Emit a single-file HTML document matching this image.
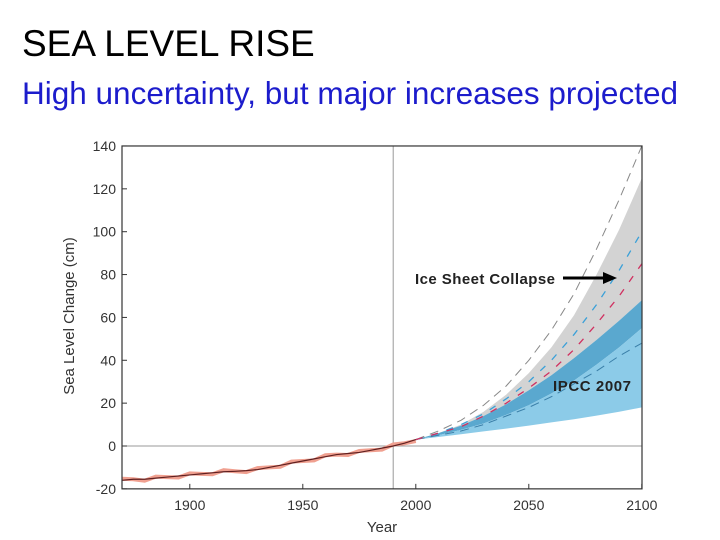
<!DOCTYPE html>
<html><head><meta charset="utf-8"><style>
body{margin:0;background:#fff;width:720px;height:540px;overflow:hidden;font-family:"Liberation Sans",sans-serif}
.t{position:absolute;left:22px;top:23px;font-size:37px;color:#000;white-space:nowrap}
.s{position:absolute;left:22px;top:75px;font-size:31.5px;color:#1c1ccc;white-space:nowrap}
</style></head><body>
<div class="t">SEA LEVEL RISE</div>
<div class="s">High uncertainty, but major increases projected</div>
<svg id="c" width="720" height="540" style="position:absolute;left:0;top:0"></svg>
<script>
const histYears=[1870,1875,1880,1885,1890,1895,1900,1905,1910,1915,1920,1925,1930,1935,1940,1945,1950,1955,1960,1965,1970,1975,1980,1985,1990,1995,2000];
const histVals=[-16,-15.5,-15.5,-15,-14.5,-14,-13.5,-13,-12.5,-12,-11.8,-11.5,-11,-10,-9,-8,-7,-6,-5,-4,-3.5,-3,-2,-1,0,1.3,3];
const projYears=[2000,2010,2020,2030,2040,2050,2060,2070,2080,2090,2100];
const grayTop=[3,6,10,16,24,34,46,61,80,101,125];
const darkTop=[3,6,9.5,14,19.5,26,33,41,49.5,58.5,68];
const darkBottom=[3,5,7.5,10.5,14.5,19,24.5,30.5,38,46,55];
const lightBottom=[3,4.2,5.5,6.8,8.1,9.5,11,12.5,14.2,16,18];
const topDash=[3,7,12,19,28,40,54,71,92,115,140];
const lowDash=[3,5,7,10,14,18,23,29,35,42,48];
const cyanDash=[3,6,10,15,22,30,40,52,66,82,100];
const redDash=[3,6,9,14,20,27,35,45,57,70,85];
const xTicks=[1900,1950,2000,2050,2100];
const yTicks=[-20,0,20,40,60,80,100,120,140];
const X=y=>122+(y-1870)*2.26, Y=v=>446-v*2.143;
const svg=document.getElementById('c');const NS='http://www.w3.org/2000/svg';
function mk(t,a,name){const e=document.createElementNS(NS,t);for(const k in a)e.setAttribute(k,a[k]);


svg.appendChild(e);return e;}
const pts=(ys,vs)=>ys.map((y,i)=>X(y)+','+Y(vs[i])).join(' ');
const band=(a,b)=>pts(projYears,a)+' '+pts(projYears.slice().reverse(),b.slice().reverse());
mk('polygon',{points:band(grayTop,darkTop),fill:'#d3d3d3'},'ice-sheet-band');
mk('polygon',{points:band(darkTop,darkBottom),fill:'#5aa8cf'},'overlap-band');
mk('polygon',{points:band(darkBottom,lightBottom),fill:'#8ccbe8'},'ipcc-band');
mk('polyline',{points:pts(projYears,topDash),fill:'none',stroke:'#888','stroke-dasharray':'9,6','stroke-width':1},'upper-dashed');
mk('polyline',{points:pts(projYears,lowDash),fill:'none',stroke:'#3a7fa8','stroke-dasharray':'9,6','stroke-width':1},'lower-dashed');
mk('polyline',{points:pts(projYears,cyanDash),fill:'none',stroke:'#3aa0d8','stroke-dasharray':'7,9','stroke-width':1.3},'cyan-dashed');
mk('polyline',{points:pts(projYears,redDash),fill:'none',stroke:'#d03060','stroke-dasharray':'7,9','stroke-width':1.3},'red-dashed');
mk('line',{x1:122,y1:Y(0),x2:642,y2:Y(0),stroke:'#999'},'zero-line');
mk('line',{x1:X(1990),y1:Y(140),x2:X(1990),y2:Y(-20),stroke:'#999'},'year-1990-line');
mk('polyline',{points:histYears.map((y,i)=>X(y)+','+(Y(histVals[i])+((i%3)-1)*1.5)).join(' '),fill:'none',stroke:'#f0a090','stroke-width':4},'observed-data');
mk('polyline',{points:pts(histYears,histVals),fill:'none',stroke:'#602020','stroke-width':1.2},'observed-trend');
mk('rect',{x:122,y:Y(140),width:520,height:Y(-20)-Y(140),fill:'none',stroke:'#333','stroke-width':1.2},'plot-frame');
yTicks.forEach(v=>{mk('line',{x1:122,y1:Y(v),x2:127,y2:Y(v),stroke:'#333'},'y-tick');
const t=mk('text',{x:116,y:Y(v)+5,'text-anchor':'end','font-size':14,fill:'#333'},'y-tick-label');t.textContent=v;});
xTicks.forEach(v=>{mk('line',{x1:X(v),y1:Y(-20),x2:X(v),y2:Y(-20)-5,stroke:'#333'},'x-tick');
const t=mk('text',{x:X(v),y:510,'text-anchor':'middle','font-size':14,fill:'#333'},'x-tick-label');t.textContent=v;});
let t=mk('text',{x:382,y:532,'text-anchor':'middle','font-size':15,fill:'#333'},'x-axis-title');t.textContent='Year';
t=mk('text',{x:0,y:0,'text-anchor':'middle','font-size':15,fill:'#333',transform:'translate(74,316) rotate(-90)'},'y-axis-title');t.textContent='Sea Level Change (cm)';
t=mk('text',{x:415,y:284,'font-size':15,'font-weight':'bold',fill:'#222',textLength:140},'ice-sheet-label');t.textContent='Ice Sheet Collapse';
mk('line',{x1:563,y1:278,x2:607,y2:278,stroke:'#000','stroke-width':3},'arrow-shaft');
mk('polygon',{points:'603,272 617,278 603,284',fill:'#000'},'arrow-head');
t=mk('text',{x:553,y:391,'font-size':15,'font-weight':'bold',fill:'#222',textLength:78},'ipcc-label');t.textContent='IPCC 2007';
</script>
</body></html>
